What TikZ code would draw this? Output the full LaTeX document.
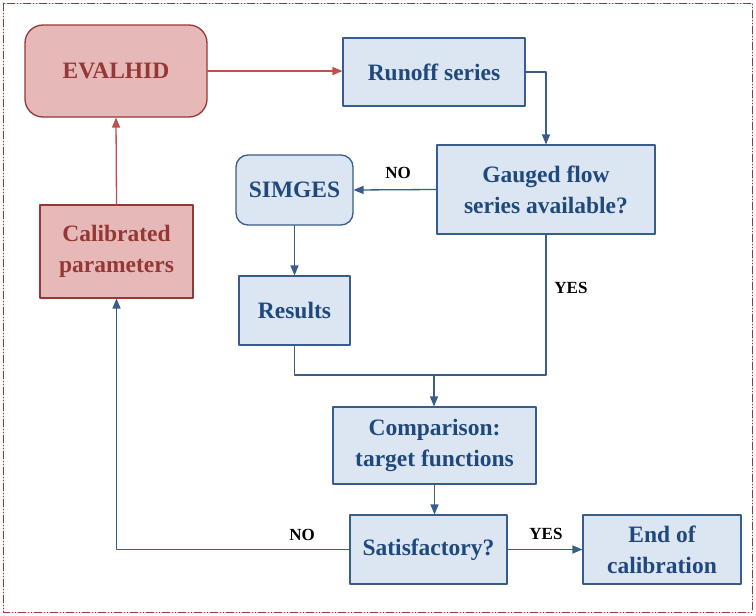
\documentclass[tikz,border=0pt]{standalone}
\usepackage{fontspec}
\setmainfont{Liberation Serif}
\usepackage{tikz}
\usetikzlibrary{arrows}

\definecolor{bluefill}{HTML}{DCE6F2}
\definecolor{blueline}{HTML}{385D8A}
\definecolor{bluetext}{HTML}{1F497D}
\definecolor{redfill}{HTML}{E6B9B8}
\definecolor{redline}{HTML}{953735}
\definecolor{redarrow}{HTML}{C0504D}

\begin{document}
\begin{tikzpicture}[x=1pt,y=-1pt,line cap=round,line join=round,>=triangle 45,
    bluebox/.style={draw=blueline,fill=bluefill,line width=1.3pt,text=bluetext,align=center,
      font=\fontsize{23.5}{31}\selectfont\bfseries,inner sep=0pt},
    redbox/.style={draw=redline,fill=redfill,line width=1.3pt,text=redline,align=center,
      font=\fontsize{23.5}{31}\selectfont\bfseries,inner sep=0pt},
    blueflow/.style={draw=blueline,line width=1.3pt},
    redflow/.style={draw=redarrow,line width=1.3pt},
    answer/.style={font=\fontsize{17}{19}\selectfont\bfseries,text=black}]
    \useasboundingbox (0,0) rectangle (756,616);
    \draw[redline,line width=0.9pt,dash pattern=on 8pt off 2pt on 1pt off 2pt on 1pt off 2pt] (3,3) rectangle (752,612);
    % boxes
    \node[redbox,rounded corners=18pt,minimum width=182pt,minimum height=92pt] (evalhid) at (116,71) {EVALHID};
    \node[redbox,minimum width=153pt,minimum height=93pt] (calib) at (116.5,251.5) {Calibrated\\parameters};
    \node[bluebox,minimum width=182pt,minimum height=68pt] (runoff) at (434,72) {Runoff series};
    \node[bluebox,minimum width=218pt,minimum height=89pt] (gauged) at (546,189.5) {Gauged flow\\series available?};
    \node[bluebox,rounded corners=12pt,minimum width=117pt,minimum height=70pt] (simges) at (294.5,190) {SIMGES};
    \node[bluebox,minimum width=111pt,minimum height=69pt] (results) at (294.5,310.5) {Results};
    \node[bluebox,minimum width=203pt,minimum height=77pt] (compar) at (434.5,445.5) {Comparison:\\target functions};
    \node[bluebox,minimum width=157pt,minimum height=69pt] (satisf) at (428.5,549.5) {Satisfactory?};
    \node[bluebox,minimum width=158pt,minimum height=69pt] (endcal) at (662,549.5) {End of\\calibration};
    \coordinate (join) at (434,375);
    % connectors
    \draw[redflow,->] (evalhid.east) -- (evalhid.east -| runoff.west);
    \draw[redflow,->] (calib.north) -- (evalhid.south);
    \draw[blueflow,->] (runoff.east) -| (gauged.north);
    \draw[blueflow,->] (gauged.west) -- (simges.east);
    \draw[blueflow,->] (simges.south) -- (results.north);
    \draw[blueflow] (results.south) |- (join);
    \draw[blueflow] (gauged.south) |- (join);
    \draw[blueflow,->] (join) -- (join |- compar.north);
    \draw[blueflow,->] (compar.south) -- (compar.south |- satisf.north);
    \draw[blueflow,->] (satisf.east) -- (endcal.west);
    \draw[blueflow,->] (satisf.west) -| (calib.south);
    % labels
    \node[answer] (noup) at (398,173) {NO};
    \node[answer] (yesup) at (571,288) {YES};
    \node[answer] (yesdown) at (546,534) {YES};
    \node[answer] (nodown) at (302,535) {NO};
\end{tikzpicture}
\end{document}
